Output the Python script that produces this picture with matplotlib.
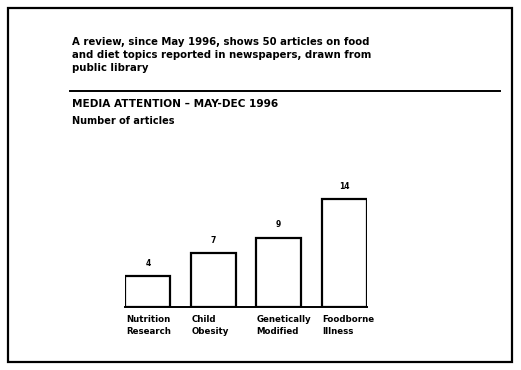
import matplotlib
matplotlib.use("Agg")
import matplotlib.pyplot as plt
from matplotlib.patches import Rectangle
import matplotlib.transforms as mtransforms

categories = ["Nutrition\nResearch", "Child\nObesity", "Genetically\nModified", "Foodborne\nIllness"]
values = [4, 7, 9, 14]
value_labels = ["4", "7", "9", "14"]

intro_lines = [
    "A review, since May 1996, shows 50 articles on food",
    "and diet topics reported in newspapers, drawn from",
    "public library",
]
heading = "MEDIA ATTENTION – MAY-DEC 1996"
subheading = "Number of articles"

fig = plt.figure(figsize=(5.21, 3.70), dpi=100)
W, H = 521, 370

def fx(px):
    return px / W

def fy(py):
    return 1 - py / H

# page border
fig.patches.append(Rectangle((fx(8), fy(362)), fx(504), (362 - 8) / H,
                             transform=fig.transFigure, fill=False,
                             edgecolor="black", linewidth=1.6))

for i, line in enumerate(intro_lines):
    fig.text(fx(72), fy(42 + 13 * i), line, fontsize=7.3, fontweight="bold",
             va="center", ha="left")
fig.lines.append(plt.Line2D([fx(70), fx(500)], [fy(91), fy(91)],
                            transform=fig.transFigure, color="black", linewidth=1.4))
fig.text(fx(72), fy(104), heading, fontsize=7.6, fontweight="bold", va="center", ha="left")
fig.text(fx(72), fy(121), subheading, fontsize=7.0, fontweight="bold", va="center", ha="left")

ax = fig.add_axes([fx(125), fy(307), fx(242), 123 / H])
x = range(len(values))
ax.bar(x, values, width=0.69, color="white", edgecolor="black", linewidth=1.6)
for xi, v, lab in zip(x, values, value_labels):
    ax.text(xi, v + 1.1, lab, ha="center", va="bottom", fontsize=5.5, fontweight="bold")
ax.set_xlim(-0.35, 3.35)
ax.set_ylim(0, 16)
for s in ["top", "right", "left"]:
    ax.spines[s].set_visible(False)
ax.spines["bottom"].set_linewidth(1.4)
ax.set_yticks([])
ax.set_xticks(list(x))
ax.set_xticklabels(categories, fontsize=6.2, fontweight="bold", ha="left", linespacing=1.4)
ax.tick_params(axis="x", length=0, pad=6)
offset = mtransforms.ScaledTranslation(-22 / 100, 0, fig.dpi_scale_trans)
for lbl in ax.get_xticklabels():
    lbl.set_transform(lbl.get_transform() + offset)

fig.savefig("out.png", dpi=100)
